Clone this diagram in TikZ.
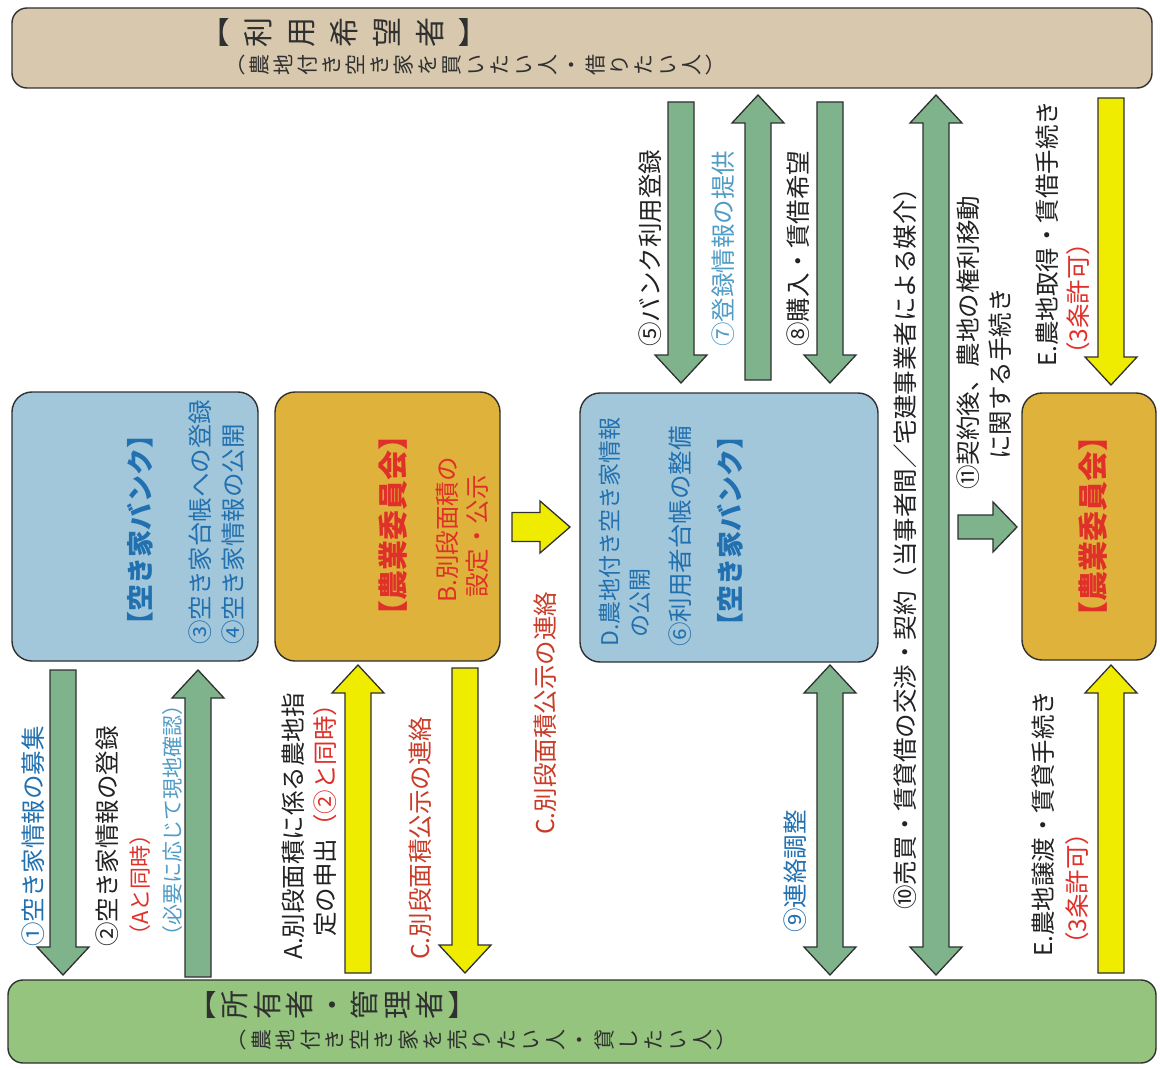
\documentclass[tikz,border=0pt]{standalone}
\usepackage{fontspec}
\setmainfont{Noto Sans CJK JP}
\usetikzlibrary{calc}
\definecolor{bannerTop}{HTML}{D8C8AE}
\definecolor{bannerBot}{HTML}{95C47F}
\definecolor{boxBlue}{HTML}{A3C7DA}
\definecolor{boxMustard}{HTML}{DFB23C}
\definecolor{arrGreen}{HTML}{7FB38C}
\definecolor{arrYellow}{HTML}{F0EC00}
\definecolor{txtBlack}{HTML}{222222}
\definecolor{txtBlue}{HTML}{2170B0}
\definecolor{txtLightBlue}{HTML}{4F9CC6}
\definecolor{txtRed}{HTML}{E0302A}
\definecolor{txtBrown}{HTML}{C83C28}
\definecolor{edge}{HTML}{303030}
\def\arsw{13}\def\arhw{26}\def\arhl{28}
\tikzset{
  arrdims/.code args={#1/#2/#3}{\def\arsw{#1}\def\arhw{#2}\def\arhl{#3}},
  oneway/.style={to path={
    let \p1=(\tikztostart), \p2=(\tikztotarget),
        \p3=($(\p2)!\arhl pt!(\p1)$),
        \n1={atan2(\y2-\y1,\x2-\x1)} in
    ($(\p1)+(\n1+90:\arsw pt)$) -- ($(\p3)+(\n1+90:\arsw pt)$) -- ($(\p3)+(\n1+90:\arhw pt)$) -- (\p2)
    -- ($(\p3)+(\n1-90:\arhw pt)$) -- ($(\p3)+(\n1-90:\arsw pt)$) -- ($(\p1)+(\n1-90:\arsw pt)$) -- cycle}},
  twoway/.style={to path={
    let \p1=(\tikztostart), \p2=(\tikztotarget),
        \p3=($(\p2)!\arhl pt!(\p1)$), \p4=($(\p1)!\arhl pt!(\p2)$),
        \n1={atan2(\y2-\y1,\x2-\x1)} in
    ($(\p4)+(\n1+90:\arsw pt)$) -- ($(\p3)+(\n1+90:\arsw pt)$) -- ($(\p3)+(\n1+90:\arhw pt)$) -- (\p2)
    -- ($(\p3)+(\n1-90:\arhw pt)$) -- ($(\p3)+(\n1-90:\arsw pt)$) -- ($(\p4)+(\n1-90:\arsw pt)$)
    -- ($(\p4)+(\n1-90:\arhw pt)$) -- (\p1) -- ($(\p4)+(\n1+90:\arhw pt)$) -- cycle}},
  garrow/.style={draw=edge, line width=1.3pt, fill=arrGreen, line join=miter},
  yarrow/.style={draw=edge, line width=1.3pt, fill=arrYellow, line join=miter},
  rbox/.style={draw=edge, line width=1.4pt, rounded corners=20pt, inner sep=0pt},
  lbl/.style={rotate=90, anchor=west, inner sep=0pt, font=\fontsize{24.5}{28}\selectfont, text=txtBlack},
  title/.style={rotate=90, anchor=center, inner sep=0pt, font=\bfseries\fontsize{30}{34}\selectfont},
  stack/.style={rotate=90, anchor=center, inner sep=0pt, align=center, text=edge},
}
\begin{document}
\begin{tikzpicture}[x=1pt,y=-1pt]
\useasboundingbox[fill=white] (0,0) rectangle (1160,1070);

% ---------- boxes ----------
\node[rbox, rounded corners=15pt, fill=bannerTop, minimum width=1140pt, minimum height=80pt] (user) at (582,48) {};
\node[rbox, rounded corners=15pt, fill=bannerBot, minimum width=1148pt, minimum height=83pt] (owner) at (582,1021.5) {};
\node[rbox, fill=boxBlue, minimum width=246pt, minimum height=269pt] (bank1) at (135,526.5) {};
\node[rbox, fill=boxMustard, minimum width=225pt, minimum height=269pt] (comm1) at (387.5,526.5) {};
\node[rbox, fill=boxBlue, minimum width=298pt, minimum height=269pt] (bank2) at (729,527.5) {};
\node[rbox, fill=boxMustard, minimum width=134pt, minimum height=267pt] (comm2) at (1089,526.5) {};

% ---------- banner texts ----------
\node[stack, font=\fontsize{30}{43}\selectfont] (userT) at (352,33) {︻\\利\\用\\希\\望\\者\\︼};
\node[stack, font=\fontsize{21}{24}\selectfont] (userS) at (482,65) {︵\\農\\地\\付\\き\\空\\き\\家\\を\\買\\い\\た\\い\\人\\・\\借\\り\\た\\い\\人\\︶};
\node[stack, font=\fontsize{29}{32.5}\selectfont] (ownerT) at (340,1005) {︻\\所\\有\\者\\・\\管\\理\\者\\︼};
\node[stack, font=\fontsize{21}{24.5}\selectfont] (ownerS) at (488,1040) {︵\\農\\地\\付\\き\\空\\き\\家\\を\\売\\り\\た\\い\\人\\・\\貸\\し\\た\\い\\人\\︶};

% ---------- box texts ----------
\node[title, text=txtBlue, font=\bfseries\fontsize{27}{30}\selectfont] (bank1T) at (140,530) {【空き家バンク】};
\node[lbl, text=txtBlue] (b3) at (200,645) {③空き家台帳への登録};
\node[lbl, text=txtBlue] (b4) at (233,645) {④空き家情報の公開};

\node[title, text=txtRed] (comm1T) at (393,525) {【農業委員会】};
\node[lbl, text=txtRed] (cB1) at (447,603) {B.別段面積の};
\node[lbl, text=txtRed] (cB2) at (477,598) {設定・公示};

\node[lbl, text=txtBlue, font=\fontsize{23}{26}\selectfont] (bD1) at (610,647) {D.農地付き空き家情報};
\node[lbl, text=txtBlue, font=\fontsize{23}{26}\selectfont] (bD2) at (640,638) {の公開};
\node[lbl, text=txtBlue] (b6) at (680,647) {⑥利用者台帳の整備};
\node[title, anchor=west, text=txtBlue, font=\bfseries\fontsize{27}{30}\selectfont] (bank2T) at (730,640) {【空き家バンク】};

\node[title, text=txtRed] (comm2T) at (1093,526) {【農業委員会】};

% ---------- arrows ----------
\coordinate (a1s) at (63,670);   \coordinate (a1e) at (63,975);
\coordinate (a2s) at (198,977);  \coordinate (a2e) at (198,670);
\coordinate (aAs) at (358,973);  \coordinate (aAe) at (358,665);
\coordinate (aCs) at (465,668);  \coordinate (aCe) at (465,973);
\coordinate (aMs) at (512,527);  \coordinate (aMe) at (570,527);
\coordinate (a5s) at (681,102);  \coordinate (a5e) at (681,383);
\coordinate (a7s) at (758,380);  \coordinate (a7e) at (758,95);
\coordinate (a8s) at (830,102);  \coordinate (a8e) at (830,383);
\coordinate (a9s) at (830,665);  \coordinate (a9e) at (830,975);
\coordinate (a10s) at (936,95);  \coordinate (a10e) at (936,975);
\coordinate (a11s) at (958,527); \coordinate (a11e) at (1017,527);
\coordinate (aE1s) at (1111,98); \coordinate (aE1e) at (1111,385);
\coordinate (aE2s) at (1111,973);\coordinate (aE2e) at (1111,665);

\draw[garrow, oneway] (a1s) to (a1e);
\draw[garrow, oneway] (a2s) to (a2e);
\draw[yarrow, oneway] (aAs) to (aAe);
\draw[yarrow, oneway] (aCs) to (aCe);
\draw[yarrow, oneway, arrdims=14.5/26/30] (aMs) to (aMe);
\draw[garrow, oneway] (a5s) to (a5e);
\draw[garrow, oneway] (a7s) to (a7e);
\draw[garrow, oneway] (a8s) to (a8e);
\draw[garrow, twoway] (a9s) to (a9e);
\draw[garrow, twoway] (a10s) to (a10e);
\draw[garrow, oneway, arrdims=12/25/24] (a11s) to (a11e);
\draw[yarrow, oneway] (aE1s) to (aE1e);
\draw[yarrow, oneway] (aE2s) to (aE2e);

% ---------- arrow labels ----------
\node[lbl, text=txtBlue] (t1) at (33,947) {①空き家情報の募集};
\node[lbl] (t2) at (107,947) {②空き家情報の登録};
\node[lbl, text=txtRed, font=\fontsize{22}{26}\selectfont] (t2a) at (140,947) {（Aと同時）};
\node[lbl, text=txtLightBlue, font=\fontsize{21}{24}\selectfont] (t2b) at (173,947) {（必要に応じて現地確認）};

\node[lbl] (tA1) at (293,960) {A.別段面積に係る農地指};
\node[lbl] (tA2) at (325,937) {定の申出\textcolor{txtRed}{（②と同時）}};
\node[lbl, text=txtBrown] (tC1) at (420,960) {C.別段面積公示の連絡};
\node[lbl, text=txtBrown] (tCm) at (545,835) {C.別段面積公示の連絡};

\node[lbl] (t5) at (650,347) {⑤バンク利用登録};
\node[lbl, text=txtLightBlue] (t7) at (723,347) {⑦登録情報の提供};
\node[lbl] (t8) at (798,347) {⑧購入・賃借希望};
\node[lbl, text=txtBlue] (t9) at (795,933) {⑨連絡調整};
\node[lbl] (t10) at (905,910) {⑩売買・賃貸借の交渉・契約（当事者間／宅建事業者による媒介）};
\node[lbl] (t11a) at (968,490) {⑪契約後、農地の権利移動};
\node[lbl] (t11b) at (1000,460) {に関する手続き};

\node[lbl] (tE1) at (1047,367) {E.農地取得・賃借手続き};
\node[lbl, text=txtRed] (tE1b) at (1078,367) {（3条許可）};
\node[lbl] (tE2) at (1043,957) {E.農地譲渡・賃貸手続き};
\node[lbl, text=txtRed] (tE2b) at (1077,957) {（3条許可）};
\end{tikzpicture}
\end{document}
